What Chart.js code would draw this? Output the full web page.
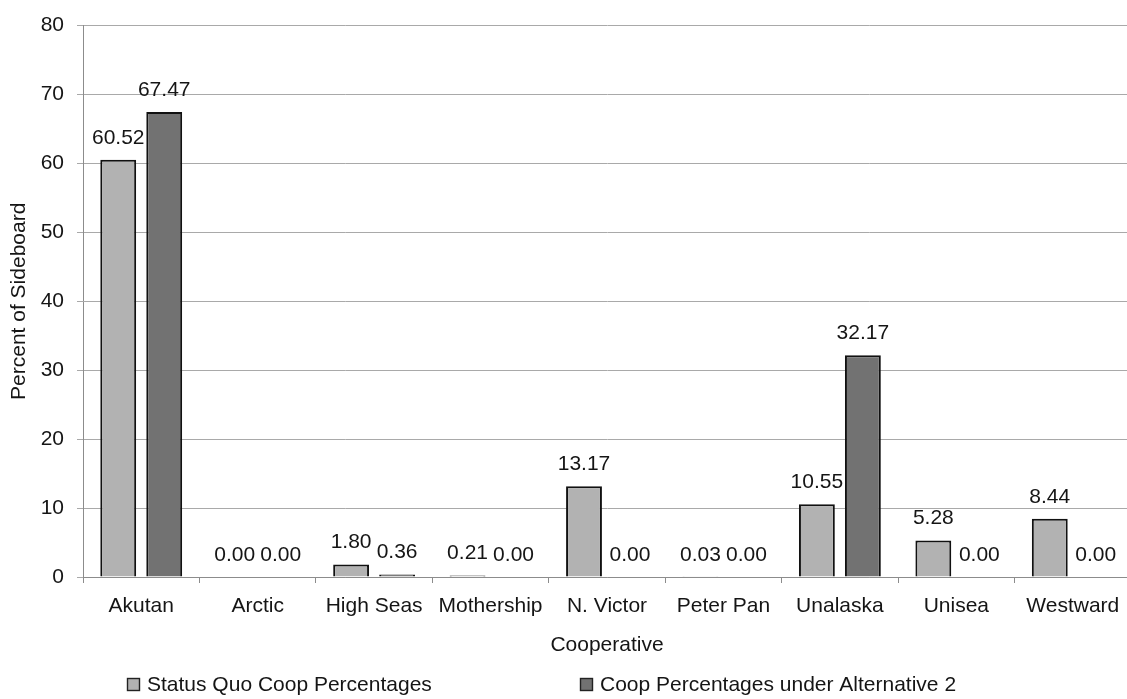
<!DOCTYPE html>
<html>
<head>
<meta charset="utf-8">
<title>Percent of Sideboard by Cooperative</title>
<script src="https://cdn.jsdelivr.net/npm/chart.js@4.4.1/dist/chart.umd.min.js"></script>
<style>
  html, body { margin: 0; padding: 0; background: #fff; overflow: hidden; }
  #wrap { position: relative; width: 1135px; height: 699px; }
</style>
</head>
<body>
<div id="wrap"><canvas id="myChart"></canvas></div>
<script>
'use strict';

// chart data

let categories = ['Akutan', 'Arctic', 'High Seas', 'Mothership', 'N. Victor', 'Peter Pan', 'Unalaska', 'Unisea', 'Westward'];
let statusQuo = [60.52, 0.00, 1.80, 0.21, 13.17, 0.03, 10.55, 5.28, 8.44];
let alternative2 = [67.47, 0.00, 0.36, 0.00, 0.00, 0.00, 32.17, 0.00, 0.00];
let seriesNames = ['Status Quo Coop Percentages', 'Coop Percentages under Alternative 2'];
let yMin = 0;
let yMax = 80;
let yStep = 10;

let textColor = '#151515';
let gridColor = '#a9a9a9';
let axisColor = '#8c8c8c';

Chart.defaults.font.family = '"Liberation Sans", Arial, sans-serif';
Chart.defaults.font.size = 21;
Chart.defaults.color = textColor;

// value labels above each bar
let valueLabels = {
  id: 'valueLabels',
  afterDatasetsDraw(chart) {
    let ctx = chart.ctx;
    ctx.save();
    ctx.font = '21px "Liberation Sans", Arial, sans-serif';
    ctx.fillStyle = textColor;
    ctx.textAlign = 'center';
    ctx.textBaseline = 'middle';
    chart.data.datasets.forEach(function (ds, i) {
      chart.getDatasetMeta(i).data.forEach(function (bar, j) {
        ctx.fillText(ds.data[j].toFixed(2), bar.x, bar.y - 22);
      });
    });
    ctx.restore();
  }
};

// legend along the bottom, spaced like the original
let bottomLegend = {
  id: 'bottomLegend',
  afterDraw(chart) {
    let ctx = chart.ctx;
    let starts = [127, 580];
    let y = 685;
    ctx.save();
    ctx.font = '21px "Liberation Sans", Arial, sans-serif';
    ctx.textBaseline = 'middle';
    ctx.textAlign = 'left';
    chart.data.datasets.forEach(function (ds, i) {
      let x = starts[i];
      ctx.fillStyle = ds.backgroundColor;
      ctx.fillRect(x, y - 7, 13, 13);
      ctx.strokeStyle = '#222';
      ctx.lineWidth = 1.4;
      ctx.strokeRect(x + 0.5, y - 6.5, 12, 12);
      ctx.fillStyle = textColor;
      ctx.fillText(ds.label, x + 20, y);
    });
    ctx.restore();
  }
};

const data = {
  labels: categories,
  datasets: [{
    label: seriesNames[0],
    data: statusQuo,
    backgroundColor: '#b2b2b2',
    borderColor: '#111111',
    borderWidth: 2,
    categoryPercentage: 0.79,
    barPercentage: 0.78
  },
  {
    label: seriesNames[1],
    data: alternative2,
    backgroundColor: '#727272',
    borderColor: '#111111',
    borderWidth: 2,
    categoryPercentage: 0.79,
    barPercentage: 0.78
  }]
};

const config = {
  type: 'bar',
  data: data,
  options: {
    responsive: true,
    maintainAspectRatio: false,
    animation: false,
    layout: {
      padding: { top: 17, right: 4, bottom: 37, left: 0 }
    },
    plugins: {
      legend: { display: false },
      tooltip: { enabled: false }
    },
    scales: {
      x: {
        afterFit: function (scale) { scale.height = 85; },
        grid: {
          display: true,
          drawOnChartArea: false,
          drawTicks: true,
          tickLength: 6,
          color: axisColor,
          offset: true
        },
        border: { color: axisColor, width: 1 },
        ticks: { padding: 11, maxRotation: 0, autoSkip: false, color: textColor },
        title: {
          display: true,
          text: 'Cooperative',
          color: textColor,
          padding: { top: 0, bottom: 4 }
        }
      },
      y: {
        min: yMin,
        max: yMax,
        afterFit: function (scale) { scale.width = 83; },
        grid: {
          color: gridColor,
          lineWidth: 1,
          tickLength: 6
        },
        border: { color: axisColor, width: 1 },
        ticks: { stepSize: yStep, padding: 13, color: textColor },
        title: {
          display: true,
          text: 'Percent of Sideboard',
          color: textColor,
          padding: { top: 7, bottom: 0 }
        }
      }
    }
  },
  plugins: [valueLabels, bottomLegend]
};

let canvasChart = document.getElementById('myChart');
const myChart = new Chart(canvasChart, config);
</script>
</body>
</html>
